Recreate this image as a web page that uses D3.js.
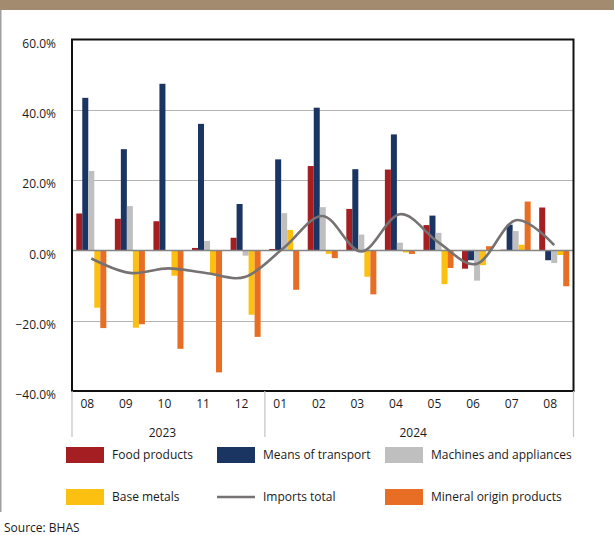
<!DOCTYPE html>
<html>
<head>
<meta charset="utf-8">
<script src="https://cdn.jsdelivr.net/npm/d3@7"></script>
<style>
  html, body { margin: 0; padding: 0; background: #fff; }
  svg { display: block; }
  text { font-family: "Open Sans", "Noto Sans", sans-serif; fill: #1a1a1a; }
</style>
</head>
<body>
<svg id="chart" width="614" height="535"></svg>
<script>
// Monthly labels and year groups
const months = ["08", "09", "10", "11", "12", "01", "02", "03", "04", "05", "06", "07", "08"];
const years = [
  { label: "2023", from: 0, to: 5 },
  { label: "2024", from: 5, to: 13 }
];

// Year-on-year change by product group, in percent
const seriesNames = ["Food products", "Means of transport", "Machines and appliances", "Base metals", "Mineral origin products"];
const foodProducts      = [10.5, 9.0, 8.3, 0.7, 3.6, 0.4, 24.0, 11.8, 23.0, 7.2, -5.2, 0.2, 12.2];
const meansOfTransport  = [43.4, 28.8, 47.4, 36.0, 13.2, 25.9, 40.6, 23.1, 33.0, 9.9, -2.8, 7.3, -2.8];
const machinesAppliance = [22.6, 12.6, 0.0, 2.7, -1.5, 10.6, 12.3, 4.5, 2.2, 5.0, -8.6, 5.5, -3.6];
const baseMetals        = [-16.3, -22.0, -7.2, -6.7, -18.3, 5.8, -1.0, -7.5, -0.6, -9.6, -4.2, 1.6, -1.3];
const mineralOrigin     = [-22.1, -21.0, -28.0, -34.7, -24.6, -11.2, -2.2, -12.5, -1.0, -5.0, 1.2, 13.9, -10.2];
const importsTotal      = [-2.3, -6.4, -5.1, -6.5, -7.5, 0.8, 9.8, -0.3, 10.3, 2.3, -3.8, 8.6, 1.5];

const yTicks = [60, 40, 20, 0, -20, -40];
const seriesColors = ["#a41e22", "#1b3563", "#bfbfbf", "#fcc011", "#e76e24"];
const lineColor = "#767272";

const barSeries = [foodProducts, meansOfTransport, machinesAppliance, baseMetals, mineralOrigin];

const svg = d3.select("#chart");

// Page decoration: top band and left rule
svg.append("rect").attr("x", 0).attr("y", 0).attr("width", 614).attr("height", 10).attr("fill", "#a38b70");
svg.append("rect").attr("x", 0).attr("y", 10).attr("width", 1.5).attr("height", 502).attr("fill", "#a0a0a0");

const plot = { left: 72, right: 573.5, top: 39.5, bottom: 391 };

const x = d3.scaleBand()
  .domain(d3.range(months.length))
  .range([plot.left, plot.right])
  .paddingInner(0)
  .paddingOuter(0);

const xSub = d3.scaleBand()
  .domain(d3.range(barSeries.length))
  .range([0, x.bandwidth()])
  .paddingInner(0)
  .paddingOuter(0.71);

const y = d3.scaleLinear().domain([-40, 60]).range([plot.bottom, plot.top]);

// Gridlines
svg.append("g")
  .selectAll("line")
  .data(yTicks.filter(d => d !== 0 && d !== 60 && d !== -40))
  .join("line")
  .attr("x1", plot.left).attr("x2", plot.right)
  .attr("y1", d => Math.round(y(d)) + 0.5).attr("y2", d => Math.round(y(d)) + 0.5)
  .attr("stroke", "#b4b4b4").attr("stroke-width", 1.2);

// Bars
const barG = svg.append("g");
barSeries.forEach((vals, s) => {
  barG.append("g")
    .attr("fill", seriesColors[s])
    .selectAll("rect")
    .data(vals.map((v, i) => ({ v, i })))
    .join("rect")
    .attr("x", d => x(d.i) + xSub(s))
    .attr("width", xSub.bandwidth())
    .attr("y", d => y(Math.max(0, d.v)))
    .attr("height", d => Math.abs(y(d.v) - y(0)));
});

// Zero line
svg.append("line")
  .attr("x1", plot.left).attr("x2", plot.right)
  .attr("y1", y(0)).attr("y2", y(0))
  .attr("stroke", "#858585").attr("stroke-width", 1.5);

// Imports total, smoothed line
const line = d3.line()
  .x((d, i) => x(i) + x.bandwidth() / 2)
  .y(d => y(d))
  .curve(d3.curveCardinal.tension(0));

svg.append("path")
  .datum(importsTotal)
  .attr("d", line)
  .attr("fill", "none")
  .attr("stroke", lineColor)
  .attr("stroke-width", 2.6);

// Plot frame
svg.append("rect")
  .attr("x", plot.left).attr("y", plot.top)
  .attr("width", plot.right - plot.left).attr("height", plot.bottom - plot.top)
  .attr("fill", "none").attr("stroke", "#111").attr("stroke-width", 2);

// Y axis labels
svg.append("g")
  .selectAll("text")
  .data(yTicks)
  .join("text")
  .attr("x", 56)
  .attr("y", d => y(d) + 4)
  .attr("dy", "0.35em")
  .attr("text-anchor", "end")
  .attr("font-size", 12)
  .text(d => d3.format(".1f")(d) + "%");

// X axis: month labels, year group separators and year labels
svg.append("g")
  .selectAll("text")
  .data(months)
  .join("text")
  .attr("x", (d, i) => x(i) + x.bandwidth() / 2 - 4)
  .attr("y", 403.5)
  .attr("dy", "0.35em")
  .attr("text-anchor", "middle")
  .attr("font-size", 12)
  .text(d => d);

const sepIdx = [0, 5, 13];
svg.append("g")
  .selectAll("line")
  .data(sepIdx)
  .join("line")
  .attr("x1", d => d < months.length ? x(d) : plot.right)
  .attr("x2", d => d < months.length ? x(d) : plot.right)
  .attr("y1", plot.bottom).attr("y2", 437)
  .attr("stroke", "#c4c4c4").attr("stroke-width", 1.2);

svg.append("g")
  .selectAll("text")
  .data(years)
  .join("text")
  .attr("x", d => ((d.from < months.length ? x(d.from) : plot.right) + (d.to < months.length ? x(d.to) : plot.right)) / 2 - 6)
  .attr("y", 432.5)
  .attr("dy", "0.35em")
  .attr("text-anchor", "middle")
  .attr("font-size", 12)
  .text(d => d.label);

// Legend
const legendItems = [
  { name: seriesNames[0], color: seriesColors[0], type: "rect", col: 0, row: 0 },
  { name: seriesNames[1], color: seriesColors[1], type: "rect", col: 1, row: 0 },
  { name: seriesNames[2], color: seriesColors[2], type: "rect", col: 2, row: 0 },
  { name: seriesNames[3], color: seriesColors[3], type: "rect", col: 0, row: 1 },
  { name: "Imports total", color: lineColor, type: "line", col: 1, row: 1 },
  { name: seriesNames[4], color: seriesColors[4], type: "rect", col: 2, row: 1 }
];
const colX = [66, 217, 385];
const rowY = [455, 497];

const leg = svg.append("g")
  .selectAll("g")
  .data(legendItems)
  .join("g")
  .attr("transform", d => `translate(${colX[d.col]},${rowY[d.row]})`);

leg.filter(d => d.type === "rect")
  .append("rect")
  .attr("x", 0).attr("y", -8).attr("width", 38).attr("height", 16)
  .attr("fill", d => d.color);

leg.filter(d => d.type === "line")
  .append("line")
  .attr("x1", 0).attr("x2", 38).attr("y1", 0).attr("y2", 0)
  .attr("stroke", d => d.color).attr("stroke-width", 2.6);

leg.append("text")
  .attr("x", 46).attr("y", 0)
  .attr("dy", "0.35em")
  .attr("font-size", 12)
  .text(d => d.name);

// Source note
svg.append("text")
  .attr("x", 4).attr("y", 527.5)
  .attr("dy", "0.35em")
  .attr("font-size", 12)
  .text("Source: BHAS");
</script>
</body>
</html>
